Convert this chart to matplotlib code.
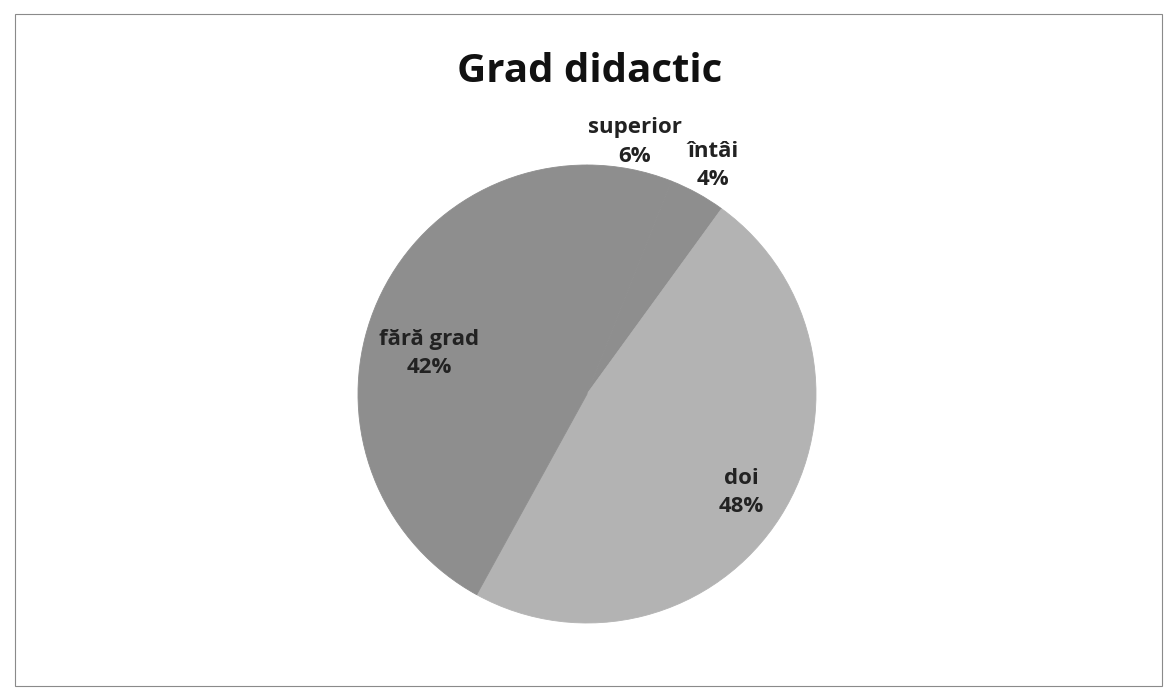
import matplotlib
matplotlib.use("Agg")
import matplotlib.pyplot as plt
import numpy as np
from matplotlib.patches import Rectangle

title = "Grad didactic"
categories = ["superior", "întâi", "doi", "fără grad"]
values = [6, 4, 48, 42]

colors = ["#8e8e8e", "#8e8e8e", "#b3b3b3", "#8e8e8e"]
label_r = [1.12, 1.14, 0.8, 0.71]

plt.rcParams['font.family'] = ['Open Sans', 'DejaVu Sans']

fig = plt.figure(figsize=(11.68, 6.94), dpi=100)
fig.patch.set_facecolor("white")

# chart border
fig.patches.append(Rectangle((15/1168, 8/694), 1147/1168, 672/694, transform=fig.transFigure,
                             fill=False, edgecolor="#8a8a8a", lw=0.8))

ax = fig.add_axes([243.5/1168, -43.5/694, 687/1168, 687/694])
wedges, _ = ax.pie(values, colors=colors, startangle=90, counterclock=False,
                   radius=1, wedgeprops=dict(linewidth=0.6))
for w, c in zip(wedges, colors):
    w.set_edgecolor(c)
ax.set_xlim(-1.5, 1.5)
ax.set_ylim(-1.5, 1.5)
ax.axis('off')

total = sum(values)
for w, cat, v, r in zip(wedges, categories, values, label_r):
    ang = np.deg2rad((w.theta1 + w.theta2) / 2)
    x, y = r * np.cos(ang), r * np.sin(ang)
    ax.text(x, y, f"{cat}\n{round(100*v/total)}%", ha="center", va="center",
            fontsize=16, fontweight="bold", color="#222222", linespacing=1.45)

fig.text(590/1168, 1 - 71/694, title, ha="center", va="center",
         fontsize=29, fontweight="bold", color="#111111")

fig.savefig("out.png", dpi=100)
